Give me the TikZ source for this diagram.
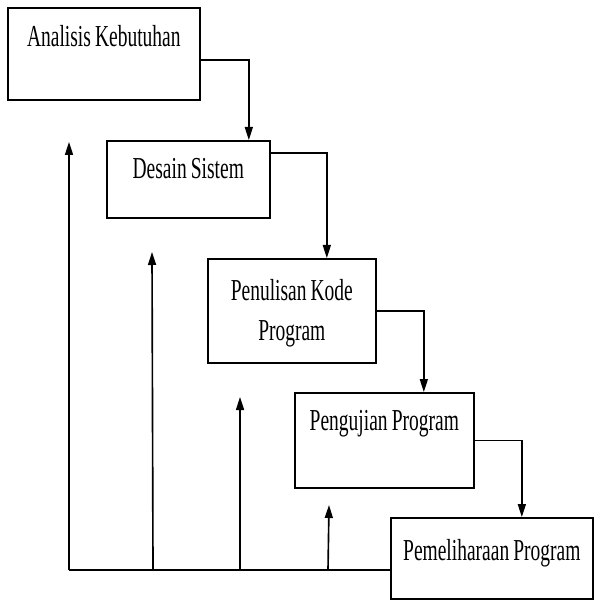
\documentclass[tikz,border=0pt]{standalone}
\usepackage{fontspec}
\setmainfont{Liberation Serif}[FakeStretch=0.64]
\usetikzlibrary{arrows.meta}
\newcommand\jarak{\hspace{3.5pt}}

\begin{document}
\begin{tikzpicture}[x=0.03cm,y=-0.03cm,
  tahap/.style={draw,line width=1.4pt,anchor=north west,inner sep=0pt,align=center,
    font=\fontsize{26}{34}\selectfont},
  panah/.style={line width=1.4pt,-{Triangle[length=0.39cm,width=0.24cm]}}]
\useasboundingbox (0,0) rectangle (593,601);
    \node[tahap,text width=5.76cm,text height=1.17cm,text depth=1.59cm] (ana) at (7,7) {Analisis\jarak Kebutuhan};
    \node[tahap,text width=4.89cm,text height=1.14cm,text depth=1.17cm] (des) at (106,140) {Desain\jarak Sistem};
    \node[tahap,text width=5.04cm,text height=1.26cm,text depth=1.86cm] (pen) at (207,258) {Penulisan\jarak Kode\\Program};
    \node[tahap,text width=5.37cm,text height=1.14cm,text depth=1.71cm] (uji) at (294,392) {Pengujian\jarak Program};
    \node[tahap,text width=6.06cm,text height=1.29cm,text depth=1.14cm] (pel) at (390,517) {Pemeliharaan\jarak Program};
    % alur turun
    \draw[panah] ([yshift=-0.18cm]ana.east) -| ([xshift=1.815cm]des.north);
    \draw[panah] ([yshift=0.795cm]des.east) -| ([xshift=1.05cm]pen.north);
    \draw[panah] (pen.east) -| ([xshift=1.185cm]uji.north);
    \draw[panah] (uji.east) -| ([xshift=0.9cm]pel.north);
    % umpan balik
    \coordinate (dasar) at (69,570);
    \draw[line width=1.4pt] (dasar) -- (dasar -| pel.west);
    \foreach \xa/\xb/\yb [count=\i] in {69/69/142,153/152/252,240/240/397,328/329/505}{
        \coordinate (balik\i) at (\xb,\yb);
        \draw[panah] (\xa,570) -- (balik\i);
    }
\end{tikzpicture}
\end{document}
